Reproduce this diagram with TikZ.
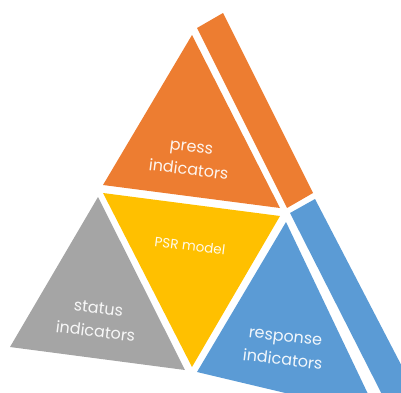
\documentclass[tikz,border=0pt]{standalone}
\usepackage{fontspec}
\setmainfont{Poppins}
\definecolor{pressorange}{HTML}{ED7D31}
\definecolor{modelyellow}{HTML}{FFC000}
\definecolor{statusgray}{HTML}{A5A5A5}
\definecolor{responseblue}{HTML}{5B9BD5}

\begin{document}
\begin{tikzpicture}[
		x=1pt, y=-1pt,
		facetext/.style={text=white, text opacity=0.92, align=center, inner sep=0pt,
			rotate=-7, font=\fontsize{16}{23.5}\selectfont},
		modeltext/.style={facetext, font=\fontsize{13.5}{15}\selectfont}
		]
		\useasboundingbox (0,0) rectangle (401,392);
		\clip (0,0) rectangle (401,392);
		% corners of the faces
		\coordinate (p1) at (192,35);
		\coordinate (p2) at (103,185);
		\coordinate (p3) at (280,208);
		\coordinate (m1) at (103,193);
		\coordinate (m2) at (280,216);
		\coordinate (m3) at (192,367);
		\coordinate (s1) at (98,197);
		\coordinate (s2) at (10,347);
		\coordinate (s3) at (185,370);
		\coordinate (r1) at (286,222);
		\coordinate (r2) at (197,372);
		\coordinate (r3) at (378,415);
		% side strips
		\fill[pressorange] (197,28) -- (223,13) -- (313,193) -- (287,208) -- cycle;
		\fill[responseblue] (290,213) -- (315,199) -- (435,430) -- (400,430) -- cycle;
		% faces
		\fill[pressorange] (p1) -- (p2) -- (p3) -- cycle;
		\fill[modelyellow] (m1) -- (m2) -- (m3) -- cycle;
		\fill[statusgray] (s1) -- (s2) -- (s3) -- cycle;
		\fill[responseblue] (r1) -- (r2) -- (r3) -- cycle;
		% texts
		\node[facetext] (press) at (190,159) {press\\indicators};
		\node[modeltext] (model) at (190,246) {PSR model};
		\node[facetext] (status) at (97,320) {status\\indicators};
		\node[facetext] (response) at (284,349) {response\\indicators};
\end{tikzpicture}
\end{document}
